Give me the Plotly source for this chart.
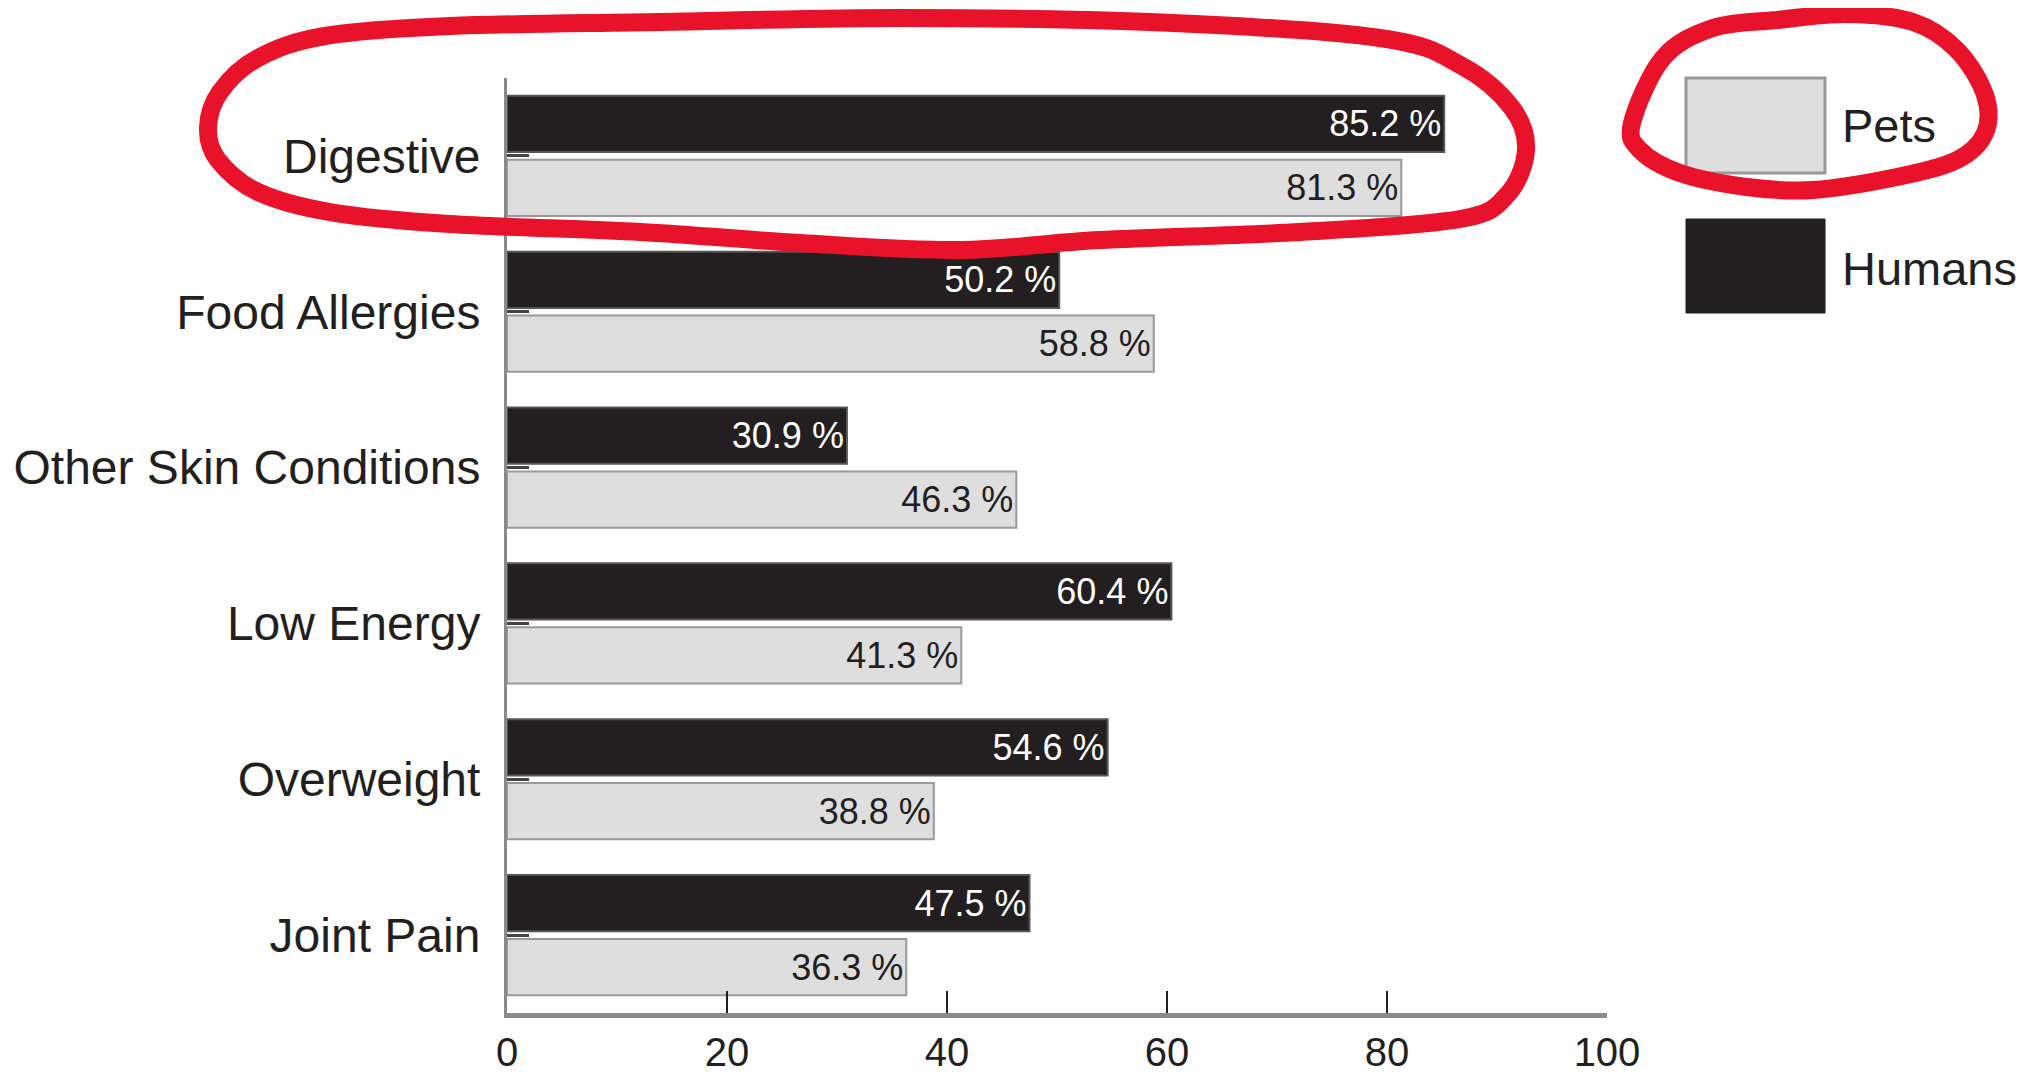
import plotly.graph_objects as go

categories = ["Digestive", "Food Allergies", "Other Skin Conditions", "Low Energy", "Overweight", "Joint Pain"]
humans = [85.2, 50.2, 30.9, 60.4, 54.6, 47.5]
pets = [81.3, 58.8, 46.3, 41.3, 38.8, 36.3]
x_ticks = [0, 20, 40, 60, 80, 100]

W, H = 2036, 1076
OFF = 8  # page body margin
L, T = 507 - OFF, 78 - OFF
PW, PH = 1100, 935
R = W - L - PW
B = H - T - PH

DARK = "#231f20"
LIGHT = "#dedede"
RED = "#e8132a"
FONT = "Liberation Sans, Arial, sans-serif"


def px(xp, yp):
    """page pixel -> paper coords"""
    return (xp - OFF - L) / PW, (T + PH - (yp - OFF)) / PH


def smooth_path(points):
    pts = [px(*p) for p in points]
    n = len(pts)
    d = "M {:.5f},{:.5f}".format(*pts[0])
    for i in range(n):
        p0 = pts[(i - 1) % n]
        p1 = pts[i]
        p2 = pts[(i + 1) % n]
        p3 = pts[(i + 2) % n]
        c1 = (p1[0] + (p2[0] - p0[0]) / 6, p1[1] + (p2[1] - p0[1]) / 6)
        c2 = (p2[0] - (p3[0] - p1[0]) / 6, p2[1] - (p3[1] - p1[1]) / 6)
        d += " C {:.5f},{:.5f} {:.5f},{:.5f} {:.5f},{:.5f}".format(c1[0], c1[1], c2[0], c2[1], p2[0], p2[1])
    return d


fig = go.Figure()
fig.add_trace(go.Bar(
    name="Humans", y=categories, x=humans, orientation="h",
    marker=dict(color=DARK, line=dict(color="#555555", width=2)),
    text=[f"{v:.1f} %" for v in humans], textposition="inside", insidetextanchor="end",
    textangle=0, constraintext="none",
    textfont=dict(family=FONT, size=36, color="white"),
))
fig.add_trace(go.Bar(
    name="Pets", y=categories, x=pets, orientation="h",
    marker=dict(color=LIGHT, line=dict(color="#999999", width=2)),
    text=[f"{v:.1f} %" for v in pets], textposition="inside", insidetextanchor="end",
    textangle=0, constraintext="none",
    textfont=dict(family=FONT, size=36, color=DARK),
))

loop1 = [(660, 22), (900, 18), (1150, 22), (1380, 38), (1462, 66), (1512, 108), (1526, 150),
         (1507, 195), (1460, 219), (1300, 232), (1100, 240), (960, 250), (800, 243), (640, 232),
         (450, 224), (330, 212), (258, 192), (218, 160), (208, 128), (220, 92), (258, 58),
         (325, 36), (450, 26)]
loop2 = [(1777, 20), (1847, 14), (1913, 22), (1957, 50), (1985, 95), (1985, 133), (1957, 160),
         (1897, 177), (1813, 190), (1747, 187), (1680, 173), (1640, 150), (1632, 123),
         (1663, 58), (1713, 28)]

shapes = [
    dict(type="rect", xref="paper", yref="paper",
         x0=px(1686, 0)[0], x1=px(1825, 0)[0], y0=px(0, 173)[1], y1=px(0, 78)[1],
         fillcolor=LIGHT, line=dict(color="#999999", width=3)),
    dict(type="rect", xref="paper", yref="paper",
         x0=px(1686, 0)[0], x1=px(1825, 0)[0], y0=px(0, 313)[1], y1=px(0, 219)[1],
         fillcolor=DARK, line=dict(color=DARK, width=1)),
    dict(type="path", xref="paper", yref="paper", path=smooth_path(loop1),
         line=dict(color=RED, width=18), fillcolor="rgba(0,0,0,0)", layer="above"),
    dict(type="path", xref="paper", yref="paper", path=smooth_path(loop2),
         line=dict(color=RED, width=18), fillcolor="rgba(0,0,0,0)", layer="above"),
]

annotations = [
    dict(text="Pets", xref="paper", yref="paper", x=px(1840, 0)[0], y=px(0, 125)[1],
         xanchor="left", yanchor="middle", showarrow=False,
         font=dict(family=FONT, size=47, color=DARK)),
    dict(text="Humans", xref="paper", yref="paper", x=px(1840, 0)[0], y=px(0, 268)[1],
         xanchor="left", yanchor="middle", showarrow=False,
         font=dict(family=FONT, size=47, color=DARK)),
]

fig.update_layout(
    width=W, height=H,
    margin=dict(l=L, r=R, t=T, b=B, pad=0),
    paper_bgcolor="white", plot_bgcolor="white",
    barmode="group", bargap=0.18, bargroupgap=0.12,
    showlegend=False,
    shapes=shapes, annotations=annotations,
    xaxis=dict(range=[0, 100], tickvals=x_ticks, ticktext=[str(t) for t in x_ticks],
               showgrid=False, zeroline=False, showline=True, linecolor="#8a8a8a", linewidth=5,
               ticks="inside", ticklen=22, tickwidth=2, tickcolor=DARK, ticklabelstandoff=0,
               tickfont=dict(family=FONT, size=40, color=DARK), automargin=False),
    yaxis=dict(autorange="reversed", showgrid=False, zeroline=False, showline=True,
               linecolor="#8a8a8a", linewidth=3, ticks="inside", ticklen=22, tickwidth=3,
               tickcolor="#444444", ticklabelstandoff=14,
               tickfont=dict(family=FONT, size=48, color=DARK), automargin=False),
)

fig.write_html("out.html")
